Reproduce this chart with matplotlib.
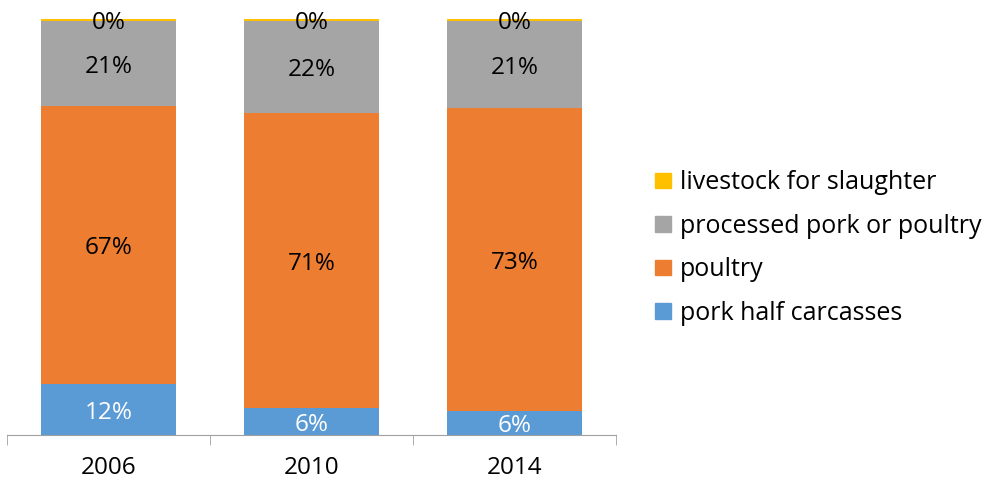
import matplotlib.pyplot as plt
from matplotlib.patches import Patch
import numpy as np

plt.rcParams['font.family'] = ['Open Sans', 'DejaVu Sans']

years = ["2006", "2010", "2014"]
series_names = ["pork half carcasses", "poultry", "processed pork or poultry", "livestock for slaughter"]
pork_half = [12.3, 6.4, 5.8]
poultry = [66.7, 71.0, 72.7]
processed = [20.6, 22.2, 21.1]
livestock = [0.4, 0.4, 0.4]
colors = ["#5B9BD5", "#ED7D31", "#A5A5A5", "#FFC000"]
label_colors = ["white", "black", "black", "black"]

FS = 17.5

fig = plt.figure(figsize=(9.87, 4.78), dpi=100)
ax = fig.add_axes([7 / 987, 43 / 478, 609 / 987, 416 / 478])

x = np.arange(len(years))
bottom = np.zeros(len(years))
for vals, name, col, lc in zip([pork_half, poultry, processed, livestock], series_names, colors, label_colors):
    vals = np.array(vals)
    ax.bar(x, vals, 0.665, bottom=bottom, color=col, label=name, edgecolor="none")
    for xi, b, v in zip(x, bottom, vals):
        # labels sit a touch below the segment middle
        ax.text(xi, b + v / 2 - 0.8, f"{v:.0f}%", ha="center", va="center", fontsize=FS, color=lc)
    bottom += vals

ax.set_xlim(-0.5, 2.5)
ax.set_ylim(0, 100)
ax.set_yticks([])
for s in ["top", "right", "left"]:
    ax.spines[s].set_visible(False)
ax.spines["bottom"].set_color("#A0A0A0")
ax.set_xticks(x)
ax.set_xticklabels(years, fontsize=FS)
ax.set_xticks([-0.5, 0.5, 1.5, 2.5], minor=True)
ax.tick_params(axis="x", which="major", length=0, pad=15)
ax.tick_params(axis="x", which="minor", length=7, color="#A0A0A0")

handles = [Patch(color=c) for c in colors[::-1]]
fig.legend(handles, series_names[::-1], loc="center left", bbox_to_anchor=(655 / 987, 1 - 248 / 478),
           frameon=False, fontsize=18, handlelength=0.66, handleheight=0.6, handletextpad=0.35,
           labelspacing=0.74, borderpad=0, borderaxespad=0)

fig.savefig("out.png", dpi=100)
